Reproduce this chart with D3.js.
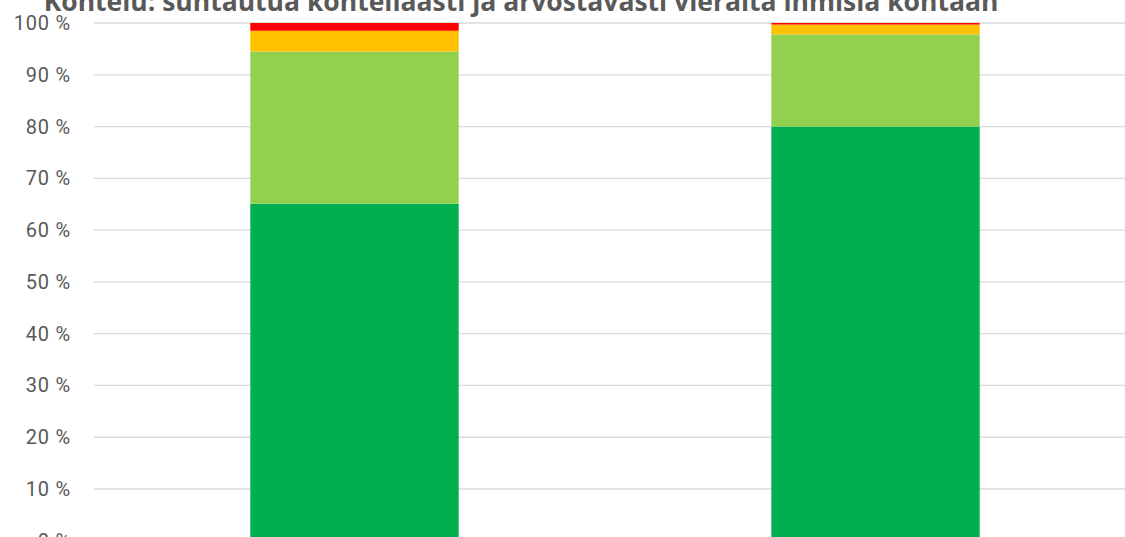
<!DOCTYPE html>
<html><head><meta charset="utf-8">
<script src="https://cdn.jsdelivr.net/npm/d3@7"></script>
<style>body{margin:0;background:#fff;overflow:hidden}</style>
</head><body>
<svg id="c" width="1125" height="537"></svg>
<script>
const categories = ["A", "B"];
const series = ["Täysin samaa mieltä", "Jokseenkin samaa mieltä", "Jokseenkin eri mieltä", "Täysin eri mieltä"];
const s1 = [65.1, 80.0];
const s2 = [29.4, 17.8];
const s3 = [4.0, 1.9];
const s4 = [1.5, 0.3];
const colors = ["#00B050", "#92D050", "#FFC000", "#FF0000"];
const yTicks = [0,10,20,30,40,50,60,70,80,90,100];
const title = "Kohtelu: suhtautua kohteliaasti ja arvostavasti vieraita ihmisiä kohtaan";

const svg = d3.select("#c");
const x = d3.scaleBand().domain(categories).range([94, 1136]).paddingInner(0.6).paddingOuter(0.3);
const y = d3.scaleLinear().domain([0, 100]).range([540.8, 23]);

const rows = categories.map((c, i) => ({cat: c, s0: s1[i], s1: s2[i], s2: s3[i], s3: s4[i]}));
const stack = d3.stack().keys(["s0","s1","s2","s3"])(rows);

// grid
svg.append("g").selectAll("line").data(yTicks).join("line")
  .attr("x1", 94).attr("x2", 1125)
  .attr("y1", d => y(d)).attr("y2", d => y(d))
  .attr("stroke", "#d9d9d9").attr("stroke-width", 1.3);

// bars
svg.append("g").selectAll("g").data(stack).join("g")
  .attr("fill", (d, i) => colors[i])
  .selectAll("rect").data(d => d).join("rect")
  .attr("x", d => x(d.data.cat))
  .attr("width", x.bandwidth())
  .attr("y", d => y(d[1]))
  .attr("height", d => y(d[0]) - y(d[1]));

// y labels
svg.append("g").selectAll("text").data(yTicks).join("text")
  .attr("x", 71).attr("y", d => y(d))
  .attr("dy", "0.35em")
  .attr("text-anchor", "end")
  .attr("font-family", "Roboto, 'Noto Sans', sans-serif")
  .attr("font-size", 20)
  .attr("letter-spacing", 0.8)
  .attr("fill", "#595959")
  .text(d => d + " %");

svg.append("text")
  .attr("x", 521).attr("y", 10.5)
  .attr("text-anchor", "middle")
  .attr("font-family", "'Open Sans', 'Noto Sans', sans-serif")
  .attr("font-weight", "bold")
  .attr("font-size", 26.5)
  .attr("fill", "#595959")
  .text(title);
</script>
</body></html>
